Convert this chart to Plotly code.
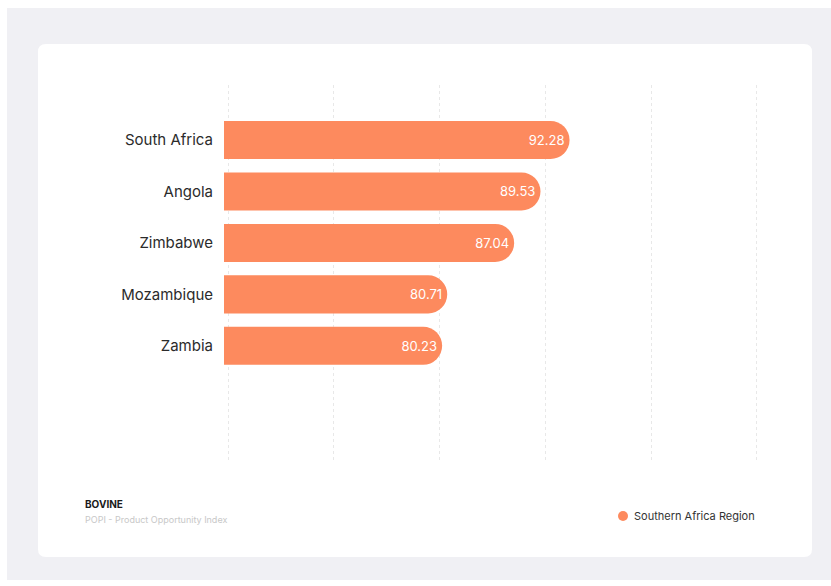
import plotly.graph_objects as go

# Product Opportunity Index scores, Southern Africa region
countries = ["South Africa", "Angola", "Zimbabwe", "Mozambique", "Zambia"]
scores = [92.28, 89.53, 87.04, 80.71, 80.23]
score_labels = ["92.28", "89.53", "87.04", "80.71", "80.23"]
series_name = "Southern Africa Region"
x_ticks = [60, 70, 80, 90, 100, 110]

BAR_COLOR = "#FD8A5E"
FONT = "Inter, Lato, sans-serif"

W, H = 831, 586
L, R, T, B = 224, 73, 85, 126
PW, PH = W - L - R, H - T - B


def px_x(px):
    return (px - L) / PW


def px_y(py):
    return (H - B - py) / PH


def rounded_rect(x0, y0, x1, y1, r):
    # pixel box -> paper-coordinate SVG path with rounded corners
    pts = [
        f"M {px_x(x0 + r)} {px_y(y0)}",
        f"L {px_x(x1 - r)} {px_y(y0)}",
        f"Q {px_x(x1)} {px_y(y0)} {px_x(x1)} {px_y(y0 + r)}",
        f"L {px_x(x1)} {px_y(y1 - r)}",
        f"Q {px_x(x1)} {px_y(y1)} {px_x(x1 - r)} {px_y(y1)}",
        f"L {px_x(x0 + r)} {px_y(y1)}",
        f"Q {px_x(x0)} {px_y(y1)} {px_x(x0)} {px_y(y1 - r)}",
        f"L {px_x(x0)} {px_y(y0 + r)}",
        f"Q {px_x(x0)} {px_y(y0)} {px_x(x0 + r)} {px_y(y0)}",
        "Z",
    ]
    return " ".join(pts)


fig = go.Figure()

fig.add_trace(go.Bar(
    y=countries,
    x=scores,
    orientation="h",
    base=0,
    width=0.74,
    marker=dict(color=BAR_COLOR, cornerradius=19, line=dict(width=0)),
    text=score_labels,
    textposition="inside",
    insidetextanchor="end",
    textfont=dict(color="white", size=13, family=FONT),
    showlegend=False,
    hoverinfo="skip",
))

shapes = [
    # page backdrop
    dict(type="rect", xref="paper", yref="paper",
         x0=px_x(7), x1=px_x(W), y0=px_y(8), y1=px_y(580),
         fillcolor="#F0F0F4", line=dict(width=0), layer="below"),
    # card
    dict(type="path", xref="paper", yref="paper",
         path=rounded_rect(38, 44, 812, 557, 8),
         fillcolor="white", line=dict(width=0), layer="below"),
    # legend dot
    dict(type="circle", xref="paper", yref="paper",
         x0=px_x(618), x1=px_x(628), y0=px_y(511), y1=px_y(521),
         fillcolor=BAR_COLOR, line=dict(width=0)),
]

annotations = [
    dict(text="<b>BOVINE</b>", xref="paper", yref="paper",
         x=px_x(83), y=px_y(504), xanchor="left", yanchor="middle",
         showarrow=False, font=dict(size=10, color="#1a1a1a", family=FONT)),
    dict(text="POPI - Product Opportunity Index", xref="paper", yref="paper",
         x=px_x(83), y=px_y(519), xanchor="left", yanchor="middle",
         showarrow=False, font=dict(size=9, color="#C8C8C8", family=FONT)),
    dict(text=series_name, xref="paper", yref="paper",
         x=px_x(632), y=px_y(516), xanchor="left", yanchor="middle",
         showarrow=False, font=dict(size=11, color="#333333", family=FONT)),
]

fig.update_layout(
    width=W, height=H,
    margin=dict(l=L, r=R, t=T, b=B, pad=0),
    paper_bgcolor="white",
    plot_bgcolor="rgba(0,0,0,0)",
    font=dict(family=FONT, color="#333333"),
    shapes=shapes,
    annotations=annotations,
    showlegend=False,
    xaxis=dict(
        range=[59.6, 110.1],
        tickvals=x_ticks,
        showticklabels=False,
        showgrid=True,
        gridcolor="#E8E8E8",
        griddash="3px,3px",
        gridwidth=1,
        zeroline=False,
        showline=False,
        fixedrange=True,
    ),
    yaxis=dict(
        type="category",
        categoryorder="array",
        categoryarray=countries,
        range=[6.22, -1.07],
        showgrid=False,
        zeroline=False,
        showline=False,
        ticks="",
        ticklabelstandoff=10,
        tickfont=dict(size=15, color="#2b2b2b", family=FONT),
        fixedrange=True,
    ),
)

fig.write_html("out.html")
